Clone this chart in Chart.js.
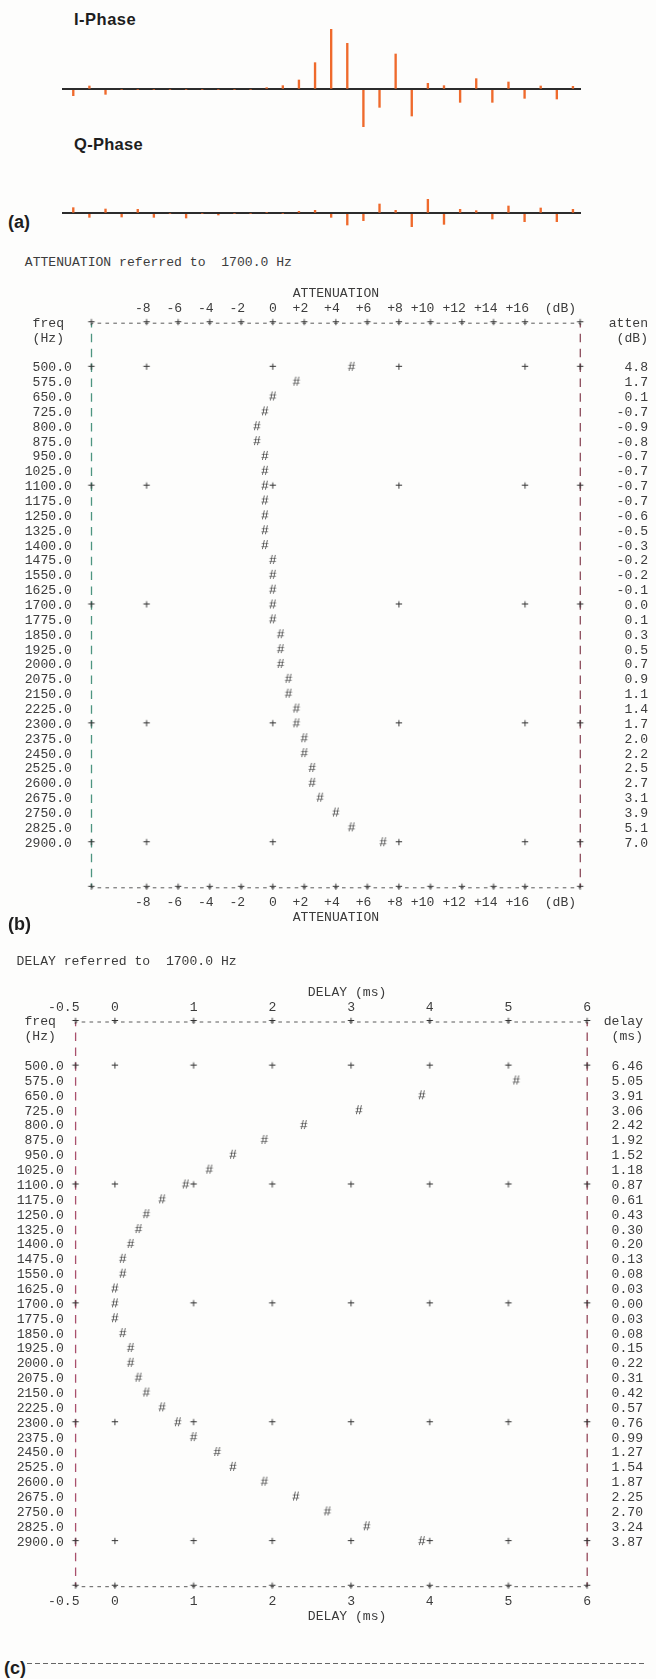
<!DOCTYPE html>
<html><head><meta charset="utf-8">
<script src="https://cdn.jsdelivr.net/npm/chart.js@4.4.1/dist/chart.umd.min.js"></script>
<style>
html,body{margin:0;padding:0;background:#fdfdfc;}
body{width:656px;height:1679px;position:relative;overflow:hidden;}
.abs{position:absolute;white-space:pre;}
canvas{position:absolute;}
.mono{font-family:"Liberation Mono",monospace;font-size:13.1px;line-height:16px;color:#3c3c3c;}
.lbl{font-family:"Liberation Sans",Arial,sans-serif;font-weight:bold;color:#1e1e1e;line-height:20px;}
</style></head><body>

<div class="abs lbl" style="left:74px;top:9.3px;font-size:16.5px;letter-spacing:0.5px">I-Phase</div>
<div class="abs lbl" style="left:74px;top:134.4px;font-size:16.5px;letter-spacing:0.3px">Q-Phase</div>
<div class="abs lbl" style="left:8px;top:211.9px;font-size:18px">(a)</div>
<canvas id="iph" width="519" height="120" style="left:62px;top:20px"></canvas>
<canvas id="qph" width="519" height="60" style="left:62px;top:180px"></canvas>

<div class="abs mono" style="left:24.8px;top:255.3px">ATTENUATION referred to  1700.0 Hz</div>
<canvas id="att" width="656" height="660" style="left:0;top:280px"></canvas>
<div class="abs lbl" style="left:8px;top:913.8px;font-size:18px">(b)</div>

<div class="abs mono" style="left:16.6px;top:954px">DELAY referred to  1700.0 Hz</div>
<canvas id="dly" width="656" height="660" style="left:0;top:980px"></canvas>
<div class="abs" style="left:27px;top:1663px;width:618px;height:1.2px;background:repeating-linear-gradient(to right,#666 0 5px,transparent 5px 7.85px)"></div>
<div class="abs lbl" style="left:4px;top:1658.3px;font-size:18px">(c)</div>

<script>
// ---------------- DATA ----------------
// (a) impulse response taps (arbitrary amplitude units)
const I_PHASE = [-19, 10, -15, 0, 0, 0, 0, 0, 0, 0, 0, 0, 5, 11, 28, 80, 180, 138, -112, -54, 106, -80, 18, 11, -39, 32, -39, 22, -27, 10, -29, 9];
const Q_PHASE = [17, -12, 13, -11, 12, -12, 0, -14, 0, -5, 0, 0, 3, 0, 6, 9, -12, -35, -22, 28, 9, -40, 42, -33, 12, 8, -17, 22, -25, 16, -25, 12];

// (b),(c) frequency rows (Hz)
const FREQS = [500, 575, 650, 725, 800, 875, 950, 1025, 1100, 1175, 1250, 1325, 1400, 1475, 1550, 1625, 1700,
               1775, 1850, 1925, 2000, 2075, 2150, 2225, 2300, 2375, 2450, 2525, 2600, 2675, 2750, 2825, 2900];
// attenuation (dB) referred to 1700 Hz
const ATTEN = [4.8, 1.7, 0.1, -0.7, -0.9, -0.8, -0.7, -0.7, -0.7, -0.7, -0.6, -0.5, -0.3, -0.2, -0.2, -0.1, 0.0,
               0.1, 0.3, 0.5, 0.7, 0.9, 1.1, 1.4, 1.7, 2.0, 2.2, 2.5, 2.7, 3.1, 3.9, 5.1, 7.0];
// delay (ms) referred to 1700 Hz
const DELAY = [6.46, 5.05, 3.91, 3.06, 2.42, 1.92, 1.52, 1.18, 0.87, 0.61, 0.43, 0.30, 0.20, 0.13, 0.08, 0.03, 0.00,
               0.03, 0.08, 0.15, 0.22, 0.31, 0.42, 0.57, 0.76, 0.99, 1.27, 1.54, 1.87, 2.25, 2.70, 3.24, 3.87];

// axis tick values
const ATT_TICKS = [-8, -6, -4, -2, 0, 2, 4, 6, 8, 10, 12, 14, 16];
const ATT_GRID = [-8, 0, 8, 16];
const ATT_RANGE = [-11.5, 19.5];
const DLY_TICKS = [-0.5, 0, 1, 2, 3, 4, 5, 6];
const DLY_GRID = [-0.5, 0, 1, 2, 3, 4, 5, 6];
const DLY_RANGE = [-0.5, 6];
const GRID_ROWS = [500, 1100, 1700, 2300, 2900];

// ---------------- STYLE ----------------
const MONO_SIZE = 13.1;
const MONO = {family: '"Liberation Mono", monospace', size: MONO_SIZE, lineHeight: 1.2};
const TXT = '#3c3c3c';
const ORANGE = '#ef6a2c';

// ---------------- (a) ----------------
function stemChart(id, vals, yMin, yMax) {
  new Chart(document.getElementById(id), {
    type: 'bar',
    data: {datasets: [{data: vals.map((v, i) => ({x: i, y: v})), backgroundColor: ORANGE, borderWidth: 0, barThickness: 1.7}]},
    options: {
      responsive: false, animation: false, events: [],
      layout: {padding: 0},
      plugins: {legend: {display: false}, tooltip: {enabled: false}},
      scales: {
        x: {type: 'linear', min: -0.70, max: 31.5, offset: false, display: false},
        y: {
          min: yMin, max: yMax,
          afterBuildTicks: s => { s.ticks = [{value: 0}]; },
          afterFit: s => { s.width = 0; },
          ticks: {display: false},
          border: {display: false},
          grid: {drawTicks: false, lineWidth: 2, color: c => c.tick && c.tick.value === 0 ? '#2c2c2c' : 'rgba(0,0,0,0)'}
        }
      }
    }
  });
}
stemChart('iph', I_PHASE, -152, 208);
stemChart('qph', Q_PHASE, -80, 100);

// ---------------- (b),(c) ----------------
function glyph(ch, color) {
  const c = document.createElement('canvas');
  c.width = 10; c.height = 18;
  const g = c.getContext('2d');
  g.font = MONO_SIZE + 'px "Liberation Mono"';
  g.fillStyle = color; g.textAlign = 'center'; g.textBaseline = 'middle';
  g.fillText(ch, 5, 9);
  return c;
}
const HASH = glyph('#', '#2e2e2e');
const PLUS = glyph('+', '#333333');

const ROW = FREQS[1] - FREQS[0];
const Y_MIN = FREQS[0] - 3 * ROW;
const Y_MAX = FREQS[FREQS.length - 1] + 3 * ROW;

function quantize(v, step) { return Math.round(v / step + 1e-6) * step; }
function centerOn(str, k) {
  const left = k, right = str.length - 1 - k;
  return right > left ? ' '.repeat(right - left) + str : str + ' '.repeat(left - right);
}

function asciiPanel(id, o) {
  const hashPts = FREQS.map((f, i) => ({x: quantize(o.values[i], o.step), y: f}));
  const gridX = [...new Set([o.range[0], ...o.grid, o.range[1]])];
  const tickX = [...new Set([o.range[0], ...o.ticks, o.range[1]])];
  const cand = [];
  GRID_ROWS.forEach(r => gridX.forEach(x => cand.push({x, y: r})));
  [Y_MIN, Y_MAX].forEach(r => tickX.forEach(x => cand.push({x, y: r})));
  const plusPts = cand.filter(p => !hashPts.some(h => h.y === p.y && Math.abs(h.x - p.x) < o.step / 2));

  const rows = [Y_MIN, Y_MIN + ROW, ...FREQS];
  const leftLab = new Map([[Y_MIN, o.leftHdr[0]], [Y_MIN + ROW, o.leftHdr[1]]]);
  const rightLab = new Map([[Y_MIN, o.rightHdr[0]], [Y_MIN + ROW, o.rightHdr[1]]]);
  FREQS.forEach((f, i) => { leftLab.set(f, f.toFixed(1)); rightLab.set(f, o.fmt(o.values[i])); });

  const charPx = o.charPx, rowPx = o.rowPx;
  const [x0, x1] = o.range;
  // ASCII frame: "-" runs along the top/bottom rows, "|" runs down the side columns
  const frame = (pts, color, dash, off, w) => ({
    type: 'line', data: pts, showLine: true, borderColor: color, borderWidth: w,
    borderDash: dash, borderDashOffset: off, pointRadius: 0, hoverRadius: 0, clip: false, order: 10
  });
  const hDash = [3.6, charPx - 3.6], vDash = [8.5, rowPx - 8.5];

  const xLabel = v => {
    const num = o.tickFmt(v);
    const isLast = v === o.ticks[o.ticks.length - 1];
    return centerOn(num + (isLast && o.unit ? '  ' + o.unit : ''), num.length - 1);
  };
  const xAxis = pos => ({
    type: 'linear', position: pos, min: x0, max: x1,
    afterBuildTicks: s => { s.ticks = o.ticks.map(v => ({value: v})); },
    afterFit: s => { s.height = pos === 'top' ? o.topH : o.botH; },
    grid: {display: false, drawTicks: false},
    border: {display: false},
    ticks: {autoSkip: false, maxRotation: 0, minRotation: 0, padding: 7.05, color: TXT, font: MONO, callback: xLabel},
    title: {display: true, text: o.axisTitle, color: TXT, font: MONO,
            padding: pos === 'top' ? {top: o.titlePadTop, bottom: 0} : {top: 0, bottom: 2.4}}
  });
  const yAxis = (pos, labels) => ({
    type: 'linear', position: pos, reverse: true, min: Y_MIN, max: Y_MAX,
    afterBuildTicks: s => { s.ticks = rows.map(v => ({value: v})); },
    afterFit: s => { s.width = pos === 'left' ? o.leftW : o.rightW; },
    grid: {display: false, drawTicks: false},
    border: {display: false},
    ticks: {autoSkip: false, padding: o.leftPad, crossAlign: pos === 'left' ? 'near' : 'far',
            color: TXT, font: MONO, callback: v => labels.get(v)}
  });

  new Chart(document.getElementById(id), {
    type: 'scatter',
    data: {datasets: [
      frame([{x: x0, y: Y_MIN}, {x: x1, y: Y_MIN}], o.dashColor, hDash, hDash[0] / 2, 1),
      frame([{x: x0, y: Y_MAX}, {x: x1, y: Y_MAX}], o.dashColor, hDash, hDash[0] / 2, 1),
      frame([{x: x0, y: Y_MIN}, {x: x0, y: Y_MAX}], o.leftColor, vDash, vDash[0] / 2, 1.3),
      frame([{x: x1, y: Y_MIN}, {x: x1, y: Y_MAX}], o.rightColor, vDash, vDash[0] / 2, 1.3),
      {data: plusPts, pointStyle: PLUS, radius: 4, hoverRadius: 4, borderWidth: 0, clip: false, order: 1},
      {data: hashPts, pointStyle: HASH, radius: 4, hoverRadius: 4, borderWidth: 0, clip: false, order: 0}
    ]},
    options: {
      responsive: false, animation: false, events: [],
      layout: {padding: {left: 0, top: 0, right: o.padRight, bottom: o.padBottom}},
      plugins: {legend: {display: false}, tooltip: {enabled: false}},
      scales: {
        x: xAxis('bottom'), x2: xAxis('top'),
        y: yAxis('left', leftLab), y2: yAxis('right', rightLab)
      }
    }
  });
}

asciiPanel('att', {
  values: ATTEN, step: 0.5, range: ATT_RANGE, ticks: ATT_TICKS, grid: ATT_GRID,
  tickFmt: v => v > 0 ? '+' + v : String(v), unit: '(dB)', axisTitle: 'ATTENUATION',
  fmt: v => v.toFixed(1), leftHdr: ['freq ', '(Hz) '], rightHdr: ['atten', '(dB)'],
  charPx: 7.884, rowPx: 14.858, topH: 43.2, botH: 40, titlePadTop: 5.7,
  leftW: 91.5, rightW: 67.7, leftPad: 19.6, padRight: 8, padBottom: 12.2,
  dashColor: '#5a5a5a', leftColor: '#4d9580', rightColor: '#8c4c5c'
});

asciiPanel('dly', {
  values: DELAY, step: 0.1, range: DLY_RANGE, ticks: DLY_TICKS, grid: DLY_GRID,
  tickFmt: v => String(v), unit: '', axisTitle: '    DELAY (ms)',
  fmt: v => v.toFixed(2), leftHdr: ['freq ', '(Hz) '], rightHdr: ['delay', '(ms)'],
  charPx: 7.868, rowPx: 14.858, topH: 42, botH: 40, titlePadTop: 4.4,
  leftW: 75.6, rightW: 55.8, leftPad: 11.8, padRight: 13, padBottom: 13.3,
  dashColor: '#5a5a5a', leftColor: '#a9506c', rightColor: '#94485a'
});
</script>
</body></html>
